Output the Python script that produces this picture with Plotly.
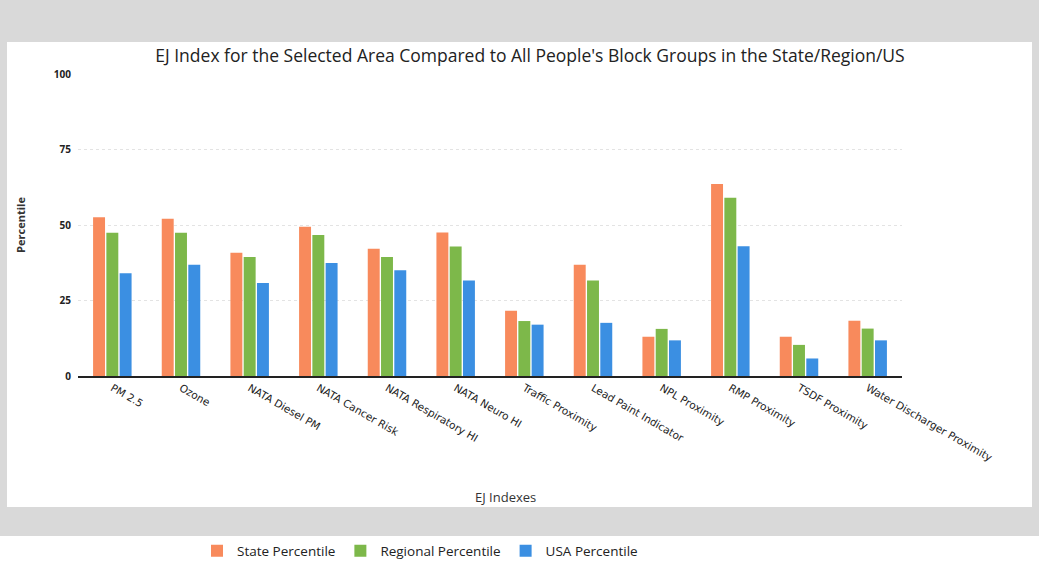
import plotly.graph_objects as go

categories = ["PM 2.5", "Ozone", "NATA Diesel PM", "NATA Cancer Risk", "NATA Respiratory HI",
              "NATA Neuro HI", "Traffic Proximity", "Lead Paint Indicator", "NPL Proximity",
              "RMP Proximity", "TSDF Proximity", "Water Discharger Proximity"]
state_pct = [52.6, 52.1, 40.8, 49.4, 42.1, 47.5, 21.6, 36.8, 13.0, 63.6, 13.0, 18.3]
regional_pct = [47.4, 47.4, 39.4, 46.7, 39.4, 42.9, 18.2, 31.6, 15.6, 59.0, 10.3, 15.7]
usa_pct = [34.0, 36.8, 30.8, 37.4, 35.0, 31.6, 17.0, 17.6, 11.8, 43.0, 5.8, 11.8]
series_names = ["State Percentile", "Regional Percentile", "USA Percentile"]
colors = ["#f88a5c", "#7db84a", "#3b8fe2"]
y_ticks = [0, 25, 50, 75, 100]

W, H = 1039, 569
L, R, T, B = 78, 902, 74, 376

fig = go.Figure()
for name, vals, c in zip(series_names, [state_pct, regional_pct, usa_pct], colors):
    fig.add_trace(go.Bar(x=categories, y=vals, name=name, marker=dict(color=c, line=dict(width=0))))

def px_x(p):
    return (p - L) / (R - L)

def px_y(p):
    return (B - p) / (B - T)

gray = "#d9d9d9"
shapes = [
    dict(type="rect", xref="paper", yref="paper", x0=px_x(0), x1=px_x(W), y0=px_y(42), y1=px_y(0),
         fillcolor=gray, line=dict(width=0), layer="below"),
    dict(type="rect", xref="paper", yref="paper", x0=px_x(0), x1=px_x(W), y0=px_y(536), y1=px_y(507),
         fillcolor=gray, line=dict(width=0), layer="below"),
    dict(type="rect", xref="paper", yref="paper", x0=px_x(0), x1=px_x(7), y0=px_y(507), y1=px_y(42),
         fillcolor=gray, line=dict(width=0), layer="below"),
    dict(type="rect", xref="paper", yref="paper", x0=px_x(1032), x1=px_x(W), y0=px_y(507), y1=px_y(42),
         fillcolor=gray, line=dict(width=0), layer="below"),
]

annotations = [
    dict(text="EJ Indexes", xref="paper", yref="paper", x=px_x(505), y=px_y(497),
         xanchor="center", yanchor="middle", showarrow=False,
         font=dict(size=13, color="#333333")),
]

fig.update_layout(
    width=W, height=H,
    margin=dict(l=L, r=W - R, t=T, b=H - B, pad=0, autoexpand=False),
    paper_bgcolor="white", plot_bgcolor="white",
    font=dict(family="Open Sans", color="#222222"),
    title=dict(text="EJ Index for the Selected Area Compared to All People's Block Groups in the State/Region/US",
               x=530 / W, xanchor="center", y=1 - 56 / H, yanchor="middle",
               font=dict(size=17.5, color="#222222")),
    barmode="group", bargap=0.42, bargroupgap=0.1,
    shapes=shapes,
    annotations=annotations,
    legend=dict(orientation="h", xref="container", yref="container", x=420 / W, xanchor="center",
                y=1 - 551 / H, yanchor="middle",
                font=dict(size=13.5, color="#222222"), bgcolor="rgba(0,0,0,0)",
                itemwidth=30, tracegroupgap=0),
    xaxis=dict(showline=True, linecolor="#222222", linewidth=2, ticks="",
               tickangle=30, tickfont=dict(size=10.5, color="#222222", family="DejaVu Sans"),
               showgrid=False, automargin=False),
    yaxis=dict(range=[0, 100], tickvals=y_ticks, ticktext=[f"<b>{v}</b>" for v in y_ticks],
               tickfont=dict(size=10, color="#222222"), showline=False, zeroline=False,
               gridcolor="#e3e3e3", griddash="dot", gridwidth=1, ticklabelstandoff=6,
               automargin=False,
               title=dict(text="<b>Percentile</b>", font=dict(size=11, color="#333333"), standoff=25)),
)

fig.write_html("out.html")
